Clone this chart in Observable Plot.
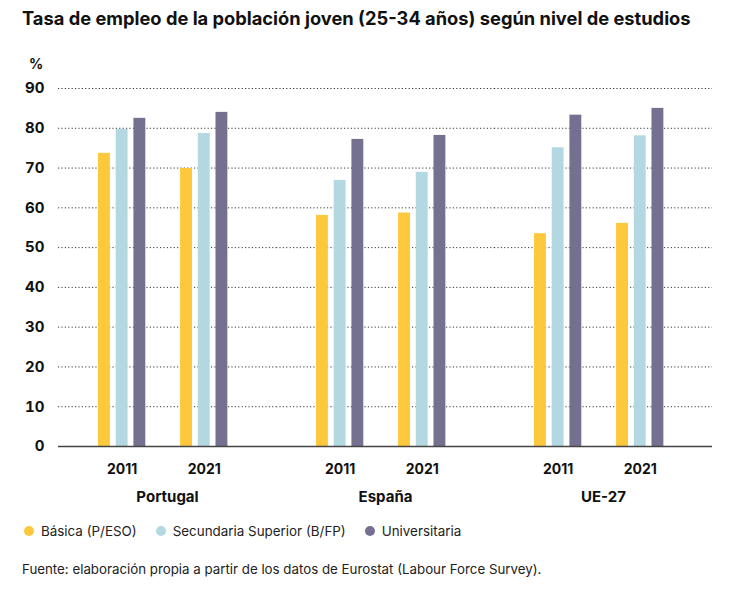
<!DOCTYPE html>
<html>
<head>
<meta charset="utf-8">
<script src="https://cdn.jsdelivr.net/npm/d3@7"></script>
<script src="https://cdn.jsdelivr.net/npm/@observablehq/plot@0.6"></script>
<style>
  body { margin: 0; background: #fff; font-family: Inter, "Noto Sans", sans-serif; color: #111; }
  #wrap { width: 730px; position: relative; }
  #title { font-size: 18.3px; font-weight: 700; line-height: 24px; padding: 6px 0 0 22px; height: 40px; box-sizing: border-box; }
  #pct { position: absolute; left: 29px; top: 55px; font-size: 14px; font-weight: 700; line-height: 18px; }
  #legend { display: flex; align-items: center; height: 30px; padding-left: 24px; font-size: 13.4px; color: #222; }
  #legend .it { display: flex; align-items: center; margin-right: 19px; }
  #legend .dot { width: 10px; height: 10px; border-radius: 50%; margin-right: 7px; }
  #foot { font-size: 13.3px; color: #222; padding: 15px 0 0 22px; }
</style>
</head>
<body>
<div id="wrap">
  <div id="title">Tasa de empleo de la población joven (25-34 años) según nivel de estudios</div>
  <div id="pct">%</div>
  <div id="chart"></div>
  <div id="legend"></div>
  <div id="foot">Fuente: elaboración propia a partir de los datos de Eurostat (Labour Force Survey).</div>
</div>
<script>
const countries = ["Portugal", "España", "UE-27"];
const years = ["2011", "2021"];
const levels = ["Básica (P/ESO)", "Secundaria Superior (B/FP)", "Universitaria"];
const colors = ["#FEC83D", "#B3D8E2", "#747090"];
// order: Portugal 2011, Portugal 2021, España 2011, España 2021, UE-27 2011, UE-27 2021
const basica = [73.7, 69.9, 58.1, 58.7, 53.5, 56.1];
const secundaria = [79.7, 78.7, 66.9, 68.9, 75.1, 78.1];
const universitaria = [82.5, 84.0, 77.2, 78.2, 83.3, 85.0];
const yTicks = [0, 10, 20, 30, 40, 50, 60, 70, 80, 90];

const series = [basica, secundaria, universitaria];
const data = [];
countries.forEach((c, ci) => years.forEach((y, yi) => levels.forEach((l, li) => {
  data.push({country: c, year: y, level: l, value: series[li][ci * 2 + yi]});
})));

const barStep = 17.7;
const bars = levels.map((l, li) => Plot.barY(data.filter(d => d.level === l), {
  fx: "country", x: "year", y: "value", fill: "level",
  insetLeft: 35.1, insetRight: 35.1, dx: (li - 1) * barStep
}));

const chart = Plot.plot({
  width: 730,
  height: 476,
  marginTop: 48,
  marginLeft: 57,
  marginRight: 18,
  marginBottom: 70,
  style: {fontFamily: "Inter, 'Noto Sans', sans-serif", color: "#111", background: "#fff"},
  fx: {domain: countries, paddingInner: 0, paddingOuter: 0, label: null},
  x: {domain: years, paddingInner: 0, paddingOuter: 0.328, align: 0.42, round: false, label: null},
  y: {domain: [0, 90], label: null},
  color: {domain: levels, range: colors},
  marks: [
    Plot.gridY(yTicks.filter(t => t > 0), {stroke: "#222", strokeOpacity: 0.9, strokeDasharray: "1.2,2.2", strokeWidth: 1}),
    ...bars,
    Plot.ruleY([0], {stroke: "#444", strokeWidth: 1.5}),
    Plot.axisY(yTicks, {tickSize: 0, tickPadding: 14, fontSize: 15, fontWeight: 700, label: null}),
    Plot.axisX({tickSize: 0, tickPadding: 18, fontSize: 14, fontWeight: 700, label: null}),
    Plot.axisFx({anchor: "bottom", tickSize: 0, tickPadding: 45, fontSize: 15, fontWeight: 700, label: null})
  ]
});
document.getElementById("chart").appendChild(chart);

const lg = document.getElementById("legend");
levels.forEach((l, i) => {
  const it = document.createElement("div");
  it.className = "it";
  const dot = document.createElement("span");
  dot.className = "dot";
  dot.style.background = colors[i];
  const t = document.createElement("span");
  t.textContent = l;
  it.appendChild(dot); it.appendChild(t);
  lg.appendChild(it);
});
</script>
</body>
</html>
